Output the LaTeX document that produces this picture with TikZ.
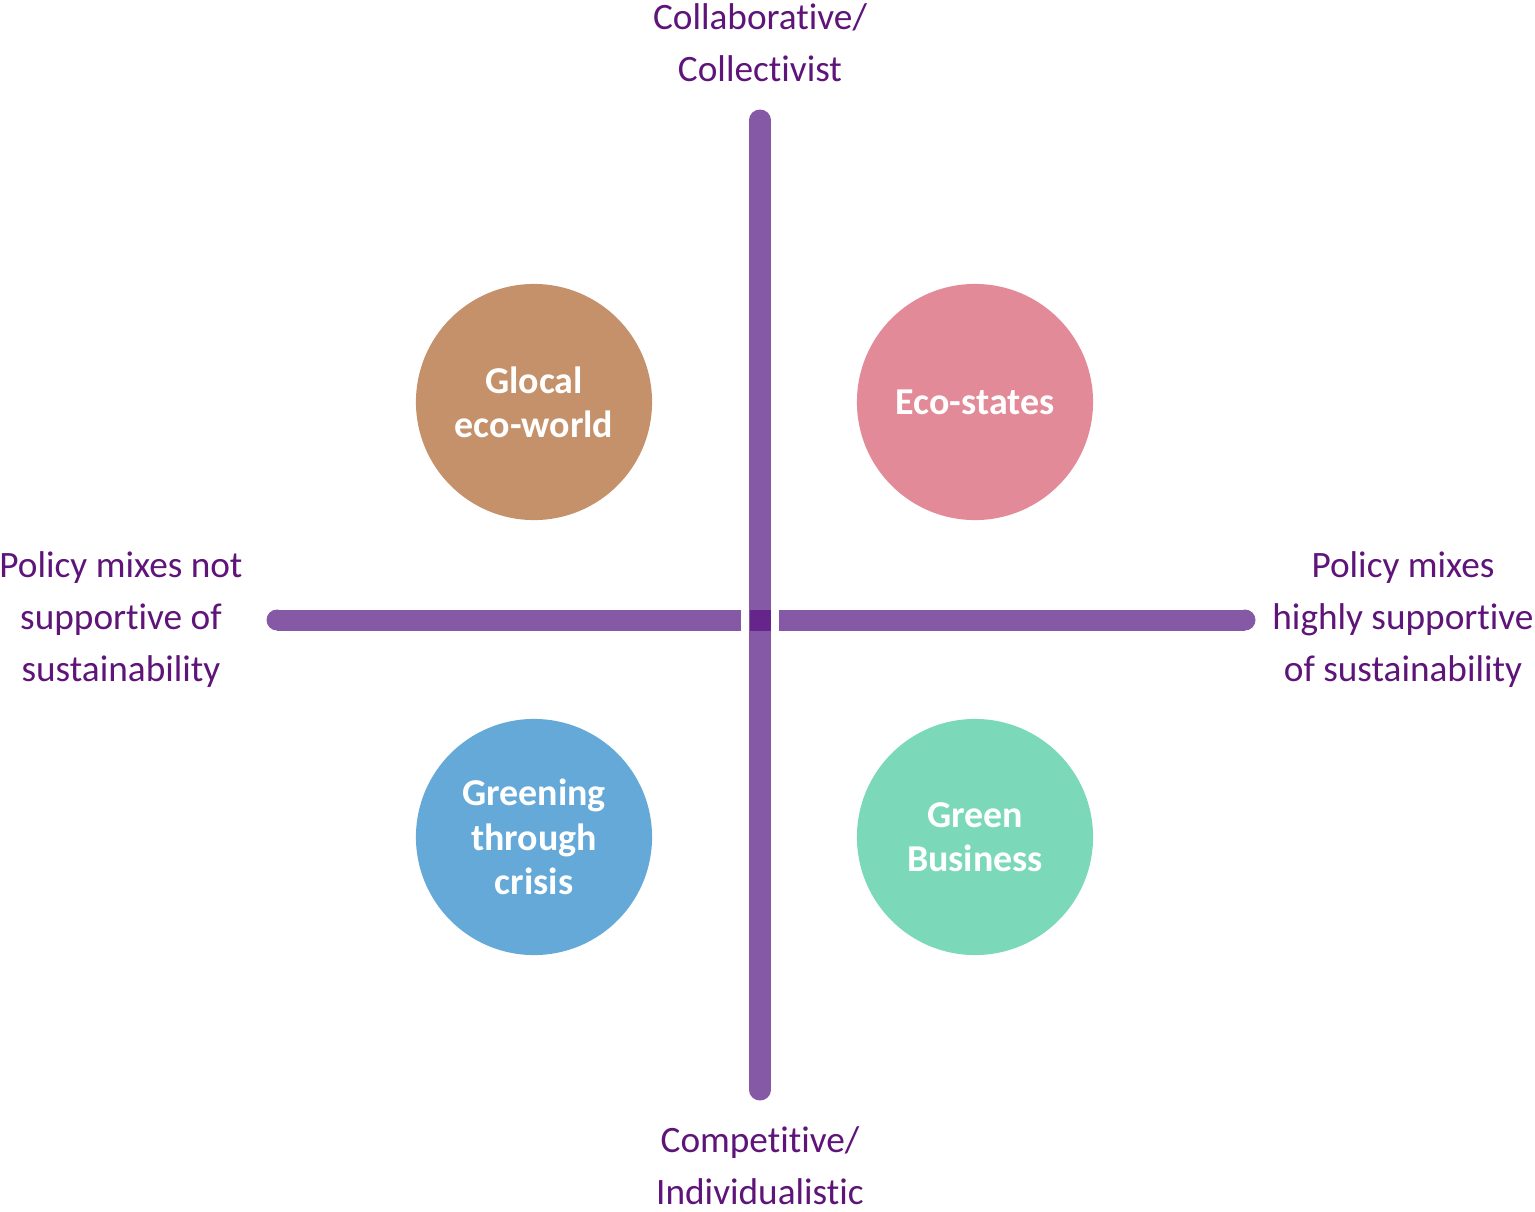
\documentclass[tikz,border=0pt]{standalone}
\usepackage{fontspec}
\setmainfont{Carlito}[RawFeature={-liga;-clig;-calt;-dlig}]
\definecolor{axis}{HTML}{8559A5}
\definecolor{axisdark}{HTML}{65258A}
\definecolor{labeltext}{HTML}{5E1478}
\definecolor{glocal}{HTML}{C4916A}
\definecolor{eco}{HTML}{E28A97}
\definecolor{greening}{HTML}{65A9D8}
\definecolor{greenbiz}{HTML}{7BD9BA}
\begin{document}
\begin{tikzpicture}[x=0.01cm, y=-0.01cm,
	blob/.style={circle, minimum size=2.36cm, inner sep=0pt, text=white, align=center,
		font=\bfseries\fontsize{10.8}{12.6}\selectfont},
	axislabel/.style={text=labeltext, align=center, inner sep=0pt,
		font=\fontsize{10.6}{14.8}\selectfont},
	axisline/.style={draw=axis, line width=0.21cm}]
				\useasboundingbox (0, 0) rectangle (1535, 1211);

				% 円
				\node[blob, fill=glocal] (G) at (534, 402) {Glocal\\eco-world};
				\node[blob, fill=eco] (E) at (975, 402) {Eco-states};
				\node[blob, fill=greening] (C) at (534, 837) {Greening\\through\\crisis};
				\node[blob, fill=greenbiz] (B) at (975, 837) {Green\\Business};

				% 軸の端
				\coordinate (T) at (760, 120);
				\coordinate (U) at (760, 1090);
				\coordinate (L) at (277, 620);
				\coordinate (La) at (741, 620);
				\coordinate (Ra) at (779, 620);
				\coordinate (R) at (1245, 620);

				% 線を引く
				\draw[axisline, line cap=round] (T) -- (U);
				\draw[axisline] (L) -- (La);
				\draw[axisline] (Ra) -- (R);
				\fill[axis] (L) circle (10.5);
				\fill[axis] (R) circle (10.5);
				\fill[axisdark] (749.5, 609.5) rectangle (770.5, 630.5);

				% 軸の名前
				\node[axislabel] (top) at (760, 43) {Collaborative/\\Collectivist};
				\node[axislabel] (bottom) at (760, 1166) {Competitive/\\Individualistic};
				\node[axislabel] (left) at (121, 620) {Policy mixes not\\supportive of\\sustainability};
				\node[axislabel] (right) at (1403, 620) {Policy mixes\\highly supportive\\of sustainability};
			\end{tikzpicture}
\end{document}
